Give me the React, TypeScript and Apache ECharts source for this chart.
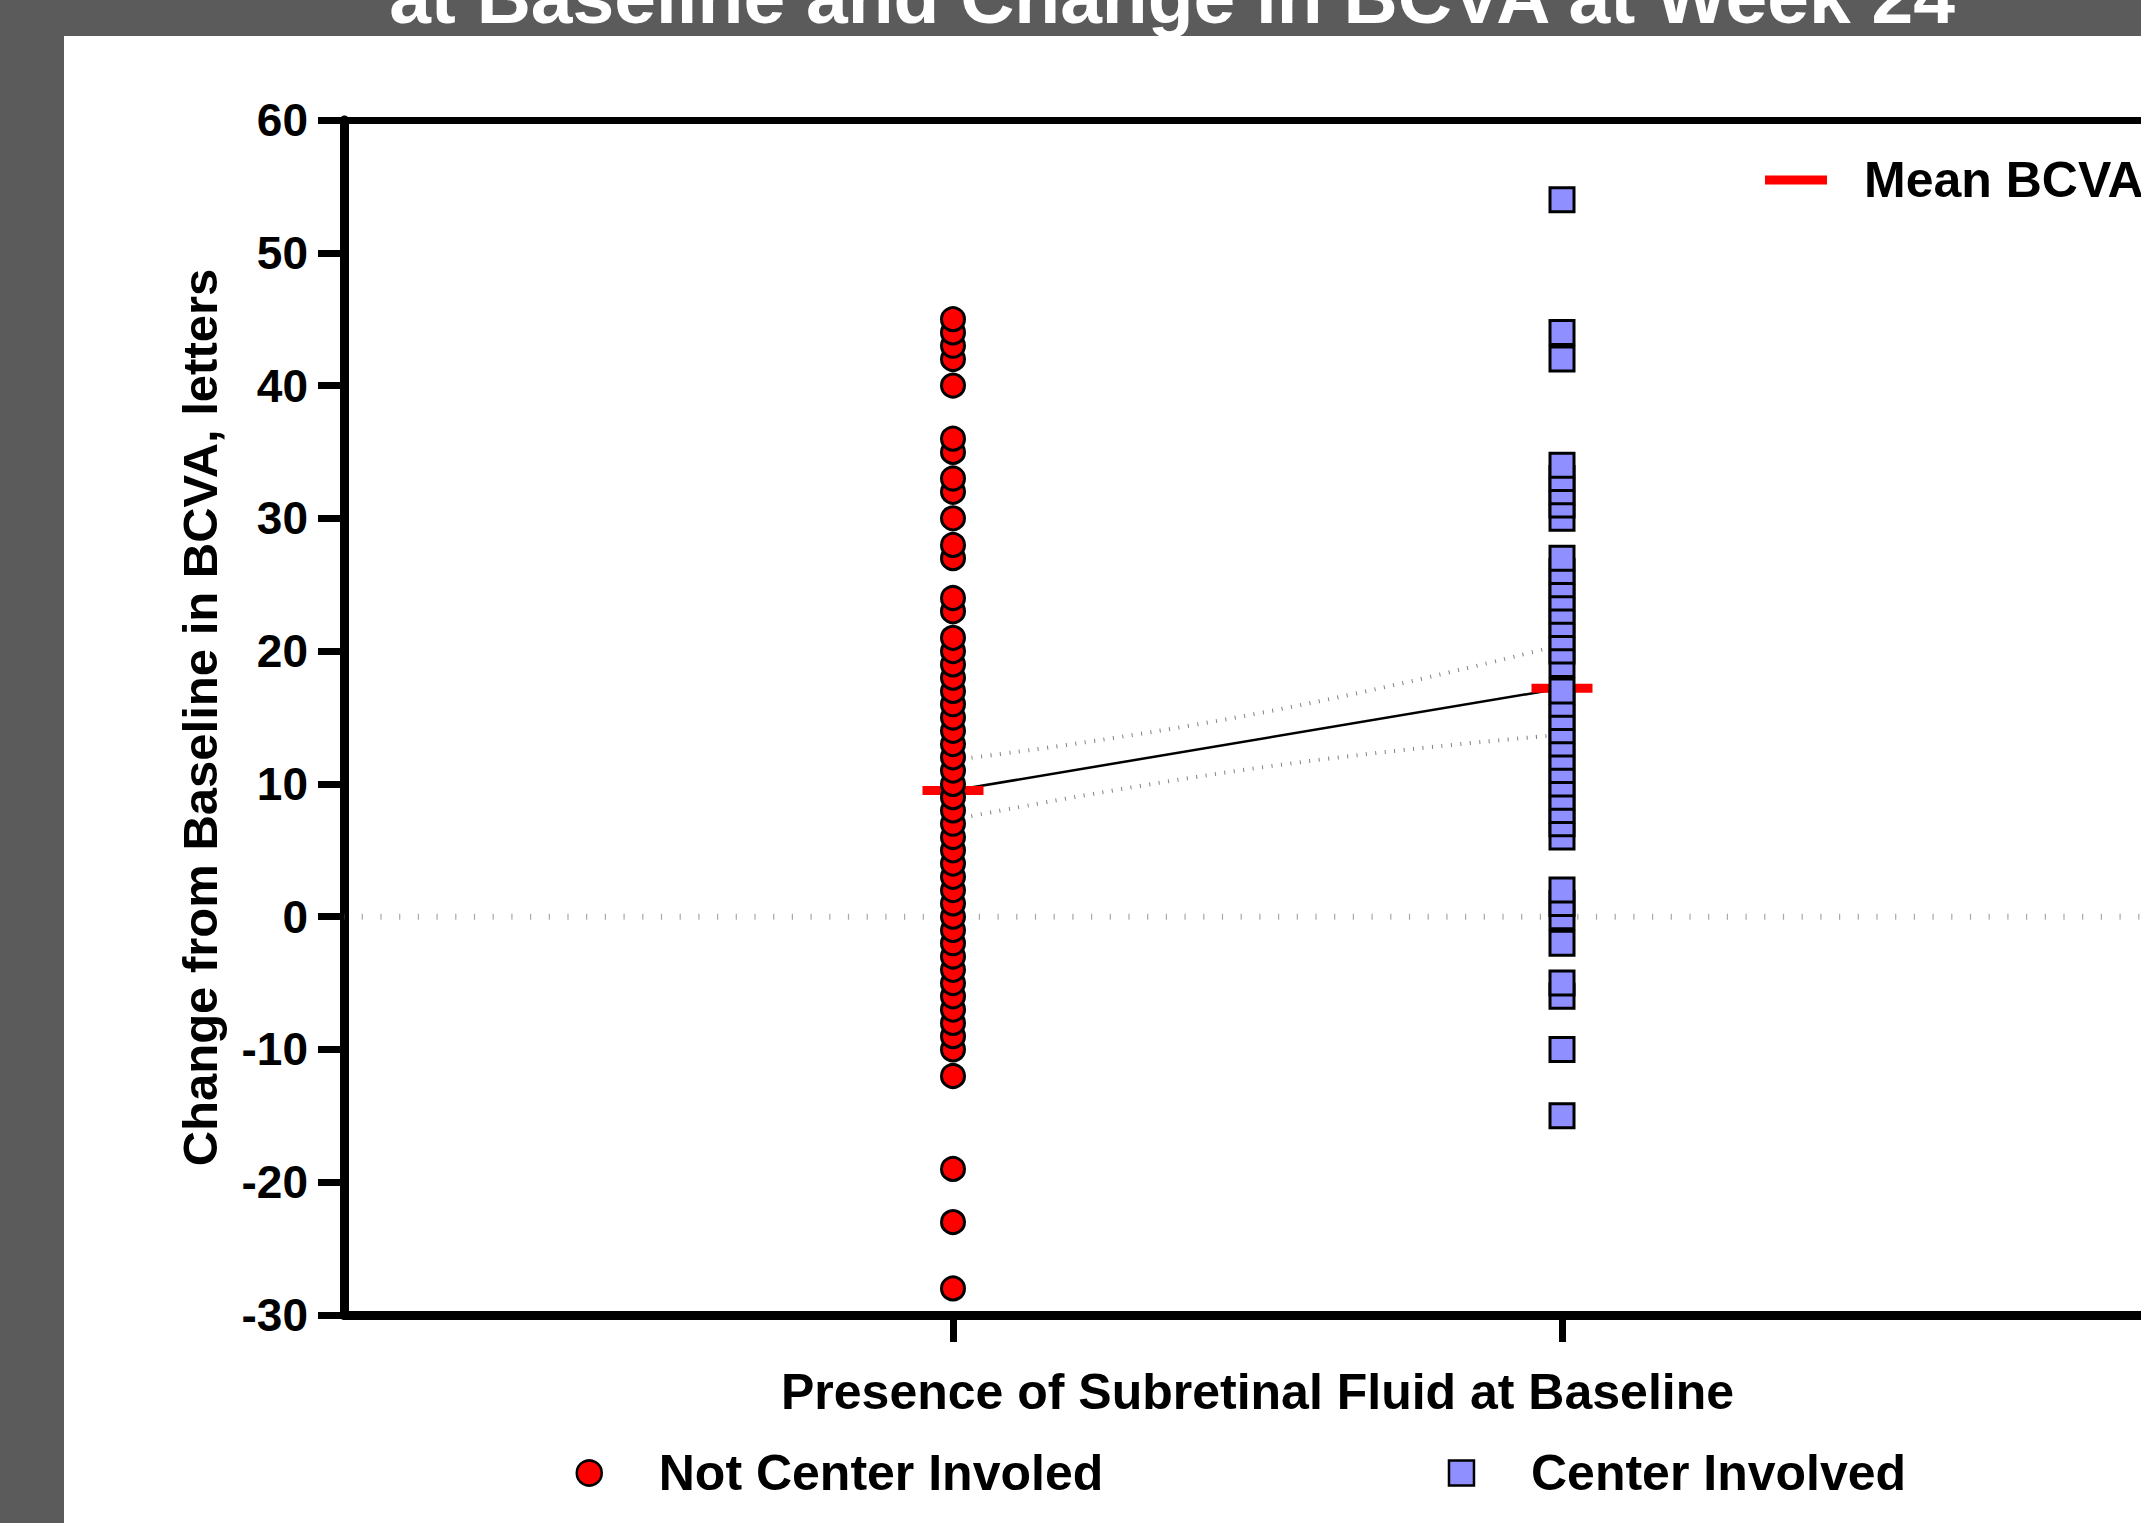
import React, { useEffect, useRef } from 'react';
import * as echarts from 'echarts';

const FONT = '"Liberation Sans", Arial, Helvetica, sans-serif';

const titleText = 'at Baseline and Change in BCVA at Week 24';
const xAxisName = 'Presence of Subretinal Fluid at Baseline';
const yAxisName = 'Change from Baseline in BCVA, letters';
const groupNames = ['Not Center Involed', 'Center Involved'];
const meanName = 'Mean BCVA';
const groupPositions = [1, 2];
const xTickValues = [1, 2];

// Change in BCVA (letters), sorted ascending so that higher points paint on top
const notCenterValues = [
  -28, -23, -19, -12, -10, -9, -8, -7, -6, -5, -4, -3, -2, -1, 0, 1, 2, 3, 4, 5, 6, 7,
  8, 9, 10, 11, 12, 13, 14, 15, 16, 17, 18, 19, 20, 21, 23, 24, 27, 28, 30, 32, 33, 35,
  36, 40, 42, 43, 44, 45,
];
const centerValues = [
  -15, -10, -6, -5, -2, 0, 1, 2, 6, 7, 8, 9, 10, 11, 12, 13, 14, 15, 16, 17, 19, 20, 21,
  22, 23, 24, 25, 26, 27, 30, 31, 32, 33, 34, 42, 44, 54,
];
const meanValues = [9.5, 17.2];
const bandX = [1, 1.5, 2];
const upperBand = [11.8, 15.3, 20.5];
const lowerBand = [7.3, 11.2, 13.7];
const zeroLineX = [0, 3];

export default function App() {
  const ref = useRef<HTMLDivElement>(null);
  useEffect(() => {
    if (!ref.current) return;
    const chart = echarts.init(ref.current, null, { renderer: 'svg' });
    const boldText = { fontFamily: FONT, fontWeight: 'bold', color: '#000' };
    const option: any = {
      animation: false,
      backgroundColor: '#5b5b5b',
      textStyle: { fontFamily: FONT },
      graphic: [
        {
          type: 'rect',
          z: -10,
          silent: true,
          shape: { x: 64, y: 36, width: 2200, height: 1600 },
          style: { fill: '#ffffff' },
        },
        {
          type: 'text',
          z: 10,
          silent: true,
          x: 1172,
          y: -3,
          style: {
            text: titleText,
            fill: '#ffffff',
            fontSize: 75,
            fontWeight: 'bold',
            fontFamily: FONT,
            align: 'center',
            verticalAlign: 'middle',
          },
        },
      ],
      grid: { left: 344, top: 120, width: 1827, height: 1195, containLabel: false, outerBoundsMode: 'none' },
      xAxis: [
        {
          type: 'value',
          min: 0,
          max: 3,
          interval: 1,
          position: 'bottom',
          axisLine: { show: true, onZero: false, lineStyle: { color: '#000', width: 9 } },
          axisTick: { show: true, customValues: xTickValues, length: 27, lineStyle: { color: '#000', width: 7 } },
          axisLabel: { show: false },
          splitLine: { show: false },
          name: xAxisName,
          nameLocation: 'middle',
          nameGap: 52,
          nameMoveOverlap: false,
          nameTextStyle: { ...boldText, fontSize: 50 },
        },
        {
          type: 'value',
          min: 0,
          max: 3,
          interval: 1,
          position: 'top',
          axisLine: { show: true, onZero: false, lineStyle: { color: '#000', width: 7 } },
          axisTick: { show: false },
          axisLabel: { show: false },
          splitLine: { show: false },
        },
      ],
      yAxis: {
        type: 'value',
        min: -30,
        max: 60,
        interval: 10,
        axisLine: { show: true, onZero: false, lineStyle: { color: '#000', width: 9 } },
        axisTick: { show: true, length: 26, lineStyle: { color: '#000', width: 7 } },
        axisLabel: { ...boldText, fontSize: 46, margin: 36 },
        splitLine: { show: false },
        name: yAxisName,
        nameLocation: 'middle',
        nameGap: 120,
        nameMoveOverlap: false,
        nameTextStyle: { ...boldText, fontSize: 49 },
      },
      legend: [
        {
          data: groupNames,
          orient: 'horizontal',
          left: 575.5,
          top: 1448,
          padding: 0,
          itemWidth: 25,
          itemHeight: 25,
          itemGap: 344.5,
          selectedMode: false,
          itemStyle: { borderColor: '#000', borderWidth: 2.5 },
          textStyle: { ...boldText, fontSize: 50, padding: [0, 0, 0, 52] },
        },
        {
          data: [meanName],
          left: 1765,
          top: 155,
          padding: 0,
          icon: 'rect',
          itemWidth: 62,
          itemHeight: 9,
          selectedMode: false,
          itemStyle: { borderWidth: 0, opacity: 1 },
          textStyle: { ...boldText, fontSize: 50, padding: [0, 0, 0, 32] },
        },
      ],
      series: [
        {
          name: 'zero',
          type: 'line',
          silent: true,
          z: 1,
          symbol: 'none',
          data: zeroLineX.map((x) => [x, 0]),
          lineStyle: { color: '#a8a8a8', width: 6, type: [1.2, 17.5], dashOffset: 1 },
        },
        {
          name: 'upper',
          type: 'line',
          silent: true,
          z: 1,
          smooth: true,
          symbol: 'none',
          data: bandX.map((x, i) => [x, upperBand[i]]),
          lineStyle: { color: '#808080', width: 4, type: [1, 8.5] },
        },
        {
          name: 'lower',
          type: 'line',
          silent: true,
          z: 1,
          smooth: true,
          symbol: 'none',
          data: bandX.map((x, i) => [x, lowerBand[i]]),
          lineStyle: { color: '#808080', width: 4, type: [1, 8.5] },
        },
        {
          name: 'connector',
          type: 'line',
          silent: true,
          z: 1,
          symbol: 'none',
          data: groupPositions.map((x, i) => [x, meanValues[i]]),
          lineStyle: { color: '#000', width: 2.5 },
        },
        {
          name: meanName,
          type: 'scatter',
          silent: true,
          z: 2,
          symbol: 'rect',
          symbolSize: [61, 9],
          data: groupPositions.map((x, i) => [x, meanValues[i]]),
          itemStyle: { color: '#ff0000', opacity: 1 },
        },
        {
          name: groupNames[0],
          type: 'scatter',
          silent: true,
          z: 3,
          symbol: 'circle',
          symbolSize: 23,
          data: notCenterValues.map((v) => [groupPositions[0], v]),
          itemStyle: { color: '#ff0000', borderColor: '#000', borderWidth: 3, opacity: 1 },
        },
        {
          name: groupNames[1],
          type: 'scatter',
          silent: true,
          z: 3,
          symbol: 'rect',
          symbolSize: 24,
          data: centerValues.map((v) => [groupPositions[1], v]),
          itemStyle: { color: '#8f8fff', borderColor: '#000', borderWidth: 3, opacity: 1 },
        },
      ],
    };
    chart.setOption(option);
    return () => chart.dispose();
  }, []);
  return (
    <div
      ref={ref}
      style={{ position: 'absolute', left: 0, top: 0, width: 2141, height: 1523 }}
    />
  );
}
